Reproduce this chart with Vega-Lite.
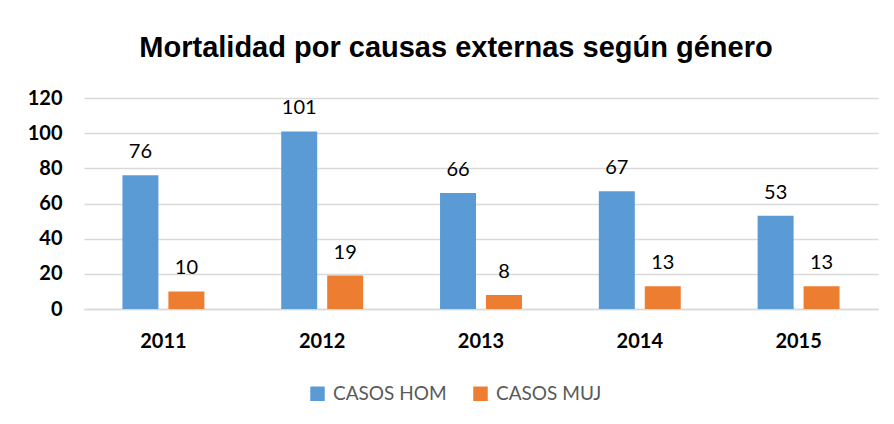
{
  "$schema": "https://vega.github.io/schema/vega-lite/v6.json",
  "width": 794,
  "height": 211,
  "autosize": "none",
  "padding": {"left": 84, "top": 98, "right": 16, "bottom": 115},
  "background": "white",
  "title": {
    "text": "Mortalidad por causas externas según género",
    "font": "Liberation Sans",
    "fontSize": 29,
    "fontWeight": "bold",
    "color": "#000000",
    "anchor": "middle",
    "dx": -25,
    "offset": 25
  },
  "data": {
    "values": [
      {"year": "2011", "serie": "CASOS HOM", "value": 76},
      {"year": "2011", "serie": "CASOS MUJ", "value": 10},
      {"year": "2012", "serie": "CASOS HOM", "value": 101},
      {"year": "2012", "serie": "CASOS MUJ", "value": 19},
      {"year": "2013", "serie": "CASOS HOM", "value": 66},
      {"year": "2013", "serie": "CASOS MUJ", "value": 8},
      {"year": "2014", "serie": "CASOS HOM", "value": 67},
      {"year": "2014", "serie": "CASOS MUJ", "value": 13},
      {"year": "2015", "serie": "CASOS HOM", "value": 53},
      {"year": "2015", "serie": "CASOS MUJ", "value": 13}
    ]
  },
  "encoding": {
    "x": {
      "field": "year",
      "type": "nominal",
      "scale": {"paddingInner": 0.484, "paddingOuter": 0.242},
      "axis": {
        "title": null,
        "labelAngle": 0,
        "labelFont": "Lato",
        "labelFontWeight": "bold",
        "labelFontSize": 20,
        "labelColor": "#000000",
        "labelPadding": 22,
        "ticks": false,
        "domain": true,
        "domainColor": "#d9d9d9",
        "domainWidth": 1.5
      }
    },
    "xOffset": {
      "field": "serie",
      "type": "nominal",
      "scale": {"paddingInner": 0.217, "paddingOuter": 0}
    },
    "y": {
      "field": "value",
      "type": "quantitative",
      "scale": {"domain": [0, 120], "nice": false},
      "axis": {
        "title": null,
        "values": [0, 20, 40, 60, 80, 100, 120],
        "labelFont": "Lato",
        "labelFontWeight": "bold",
        "labelFontSize": 20,
        "labelColor": "#000000",
        "labelPadding": 22,
        "ticks": false,
        "domain": false,
        "grid": true,
        "gridColor": "#d9d9d9",
        "gridWidth": 1.5
      }
    },
    "color": {
      "field": "serie",
      "type": "nominal",
      "scale": {"domain": ["CASOS HOM", "CASOS MUJ"], "range": ["#5b9bd5", "#ed7d31"]},
      "legend": {
        "title": null,
        "orient": "none",
        "direction": "horizontal",
        "legendX": 224,
        "legendY": 286,
        "symbolType": "square",
        "symbolSize": 210,
        "symbolStrokeWidth": 0,
        "labelFont": "Lato",
        "labelFontSize": 19,
        "labelColor": "#595959",
        "labelOffset": 6,
        "columnPadding": 24
      }
    }
  },
  "layer": [
    {"mark": {"type": "bar"}},
    {
      "mark": {"type": "text", "baseline": "alphabetic", "dy": -17, "font": "Lato", "fontSize": 20, "color": "#000000"},
      "encoding": {"text": {"field": "value", "type": "quantitative"}, "color": {"value": "#000000"}}
    }
  ],
  "config": {"view": {"stroke": null}}
}
